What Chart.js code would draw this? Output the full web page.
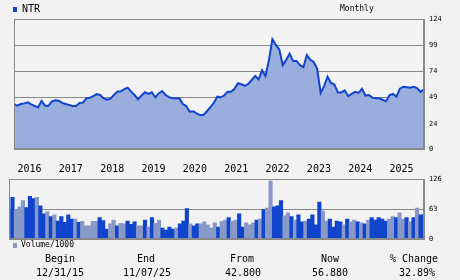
<!DOCTYPE html>
<html>
<head>
<meta charset="utf-8">
<script src="https://cdn.jsdelivr.net/npm/chart.js@4.4.0/dist/chart.umd.min.js"></script>
<style>
  html, body { margin: 0; padding: 0; background: #f2f2f2; }
  #wrap { position: relative; width: 460px; height: 280px; overflow: hidden;
          font-family: "DejaVu Sans Mono", monospace; color: #000; }
  canvas { position: absolute; left: 0; }
  #priceChart { top: 0; }
  #volChart { top: 170px; }
  .t { position: absolute; white-space: pre; line-height: 1; }
  .sq { position: absolute; width: 4px; height: 5px; }
  .c { text-align: center; width: 90px; font-size: 10px; }
</style>
</head>
<body>
<div id="wrap">
  <canvas id="priceChart" width="460" height="178"></canvas>
  <canvas id="volChart" width="460" height="80"></canvas>

  <div class="sq" style="left:13px; top:7px; background:#1144cc;"></div>
  <div class="t" style="left:22px; top:4px; font-size:10px;">NTR</div>
  <div class="t" style="left:340px; top:5px; font-size:8px;">Monthly</div>

  <div class="sq" style="left:13px; top:243px; background:#8899c8;"></div>
  <div class="t" style="left:21px; top:241px; font-size:8px;">Volume/1000</div>

  <div class="t c" style="left:15px;  top:254px;">Begin</div>
  <div class="t c" style="left:15px;  top:268px;">12/31/15</div>
  <div class="t c" style="left:101px; top:254px;">End</div>
  <div class="t c" style="left:102px; top:268px;">11/07/25</div>
  <div class="t c" style="left:197px; top:254px;">From</div>
  <div class="t c" style="left:198px; top:268px;">42.800</div>
  <div class="t c" style="left:285px; top:254px;">Now</div>
  <div class="t c" style="left:285px; top:268px;">56.880</div>
  <div class="t c" style="left:369px; top:254px;">% Change</div>
  <div class="t c" style="left:372px; top:268px;">32.89%</div>
</div>

<script>
// monthly closes, Dec 2015 .. Nov 2025
const closes = [
  42.8, 41.3, 42.9, 43.5, 44.5, 42.5, 41, 39.8, 45.8, 41.3,
  41.2, 45.5, 46.5, 46, 44, 43, 42, 41, 41, 43.8,
  44.2, 48.3, 48.8, 50.5, 52.3, 51.5, 48.3, 47, 48, 51.5,
  54.7, 55, 57, 58.5, 54.7, 51.5, 47.4, 51, 54.1, 52.5,
  54.1, 49.3, 53, 55.3, 51.5, 49.5, 48.3, 48.3, 48.3, 42.9,
  41, 35.6, 36, 34, 32.4, 32.4, 36, 40, 44, 49.9,
  49.3, 51, 54.7, 54.7, 57.5, 62.7, 61.7, 60.3, 62, 65.8,
  69.6, 66.5, 75, 69.6, 85, 104.7, 99.5, 95, 80, 85,
  91, 84, 84, 80, 78, 89.7, 85, 83, 76.5, 53.5,
  60, 69, 63, 61.5, 54, 54, 56, 50.5, 52.5, 54.5,
  53.5, 57.5, 51, 51.5, 49, 48.3, 48.3, 47, 45.5, 51.5,
  52.5, 50, 57.5, 59.4, 59, 58.5, 59.4, 58, 54.5, 56.88
];

// volume in thousands
const volumes = [
  63, 88, 62, 68, 81, 66, 90, 85, 88, 70,
  53, 58, 47, 51, 38, 47, 35, 51, 42, 42,
  35, 37, 28, 28, 37, 37, 45, 39, 21, 32,
  40, 28, 33, 32, 38, 31, 36, 28, 28, 40,
  25, 45, 33, 40, 23, 19, 25, 21, 23, 32,
  38, 64, 32, 28, 32, 32, 36, 30, 23, 34,
  25, 37, 40, 45, 37, 40, 53, 25, 34, 30,
  34, 40, 42, 62, 65, 122, 68, 70, 81, 49,
  55, 47, 40, 51, 36, 38, 42, 51, 30, 78,
  59, 38, 42, 25, 38, 36, 30, 42, 36, 40,
  36, 34, 32, 40, 45, 40, 45, 42, 38, 42,
  47, 45, 55, 42, 45, 36, 45, 65, 51, 51
];

// 1 = dark bar, 0 = light bar
const volUp = [
  0, 1, 0, 0, 0, 1, 1, 1, 0, 1,
  1, 0, 1, 0, 1, 1, 1, 1, 1, 0,
  1, 0, 0, 0, 0, 0, 1, 1, 1, 0,
  0, 1, 0, 0, 1, 1, 1, 0, 0, 1,
  0, 1, 0, 0, 1, 1, 1, 1, 0, 1,
  1, 1, 0, 1, 1, 0, 0, 0, 0, 0,
  1, 0, 0, 1, 0, 0, 1, 1, 0, 0,
  0, 1, 0, 1, 0, 0, 1, 1, 1, 0,
  0, 1, 0, 1, 1, 0, 1, 1, 1, 1,
  0, 0, 1, 1, 1, 1, 0, 1, 0, 0,
  1, 0, 1, 0, 1, 1, 1, 1, 1, 0,
  0, 1, 0, 0, 1, 0, 1, 0, 1, 1
];

const priceTicks = [0, 24, 49, 74, 99, 124];
const volTicks = [0, 63, 126];

// month categories "YYYY-MM"
const months = [];
for (let n = 0, y = 2015, m = 12; n < closes.length; n++) {
  months.push(y + "-" + String(m).padStart(2, "0"));
  m++;
  if (m > 12) { m = 1; y++; }
}

const DARK = "#1144cc";
const LIGHT = "#8899c8";
const GRID = "#888888";
const MONO = "'DejaVu Sans Mono', monospace";

// thin gray box round the plot area
const boxPlugin = {
  id: "box",
  afterDatasetsDraw(chart) {
    const { ctx, chartArea: a } = chart;
    ctx.save();
    ctx.strokeStyle = GRID;
    ctx.lineWidth = 1;
    ctx.strokeRect(Math.round(a.left) + 0.5, Math.round(a.top) + 0.5,
      Math.round(a.right - a.left) - 1, Math.round(a.bottom - a.top) - 1);
    ctx.restore();
  }
};

new Chart(document.getElementById("priceChart"), {
  type: "line",
  data: {
    labels: months,
    datasets: [{
      data: closes,
      borderColor: DARK,
      borderWidth: 2,
      backgroundColor: "#9aaede",
      fill: "origin",
      pointRadius: 0,
      tension: 0
    }]
  },
  options: {
    responsive: false,
    animation: false,
    layout: { padding: { left: 9, top: 19, right: 0, bottom: 0 } },
    plugins: { legend: { display: false }, tooltip: { enabled: false } },
    scales: {
      x: {
        offset: false,
        grid: { display: false, drawTicks: false },
        border: { display: false },
        ticks: {
          autoSkip: false, maxRotation: 0, minRotation: 0,
          align: "start", padding: 14, color: "#000",
          font: { family: MONO, size: 10 },
          callback: (v, i) => months[i].endsWith("-01") ? months[i].slice(0, 4) : ""
        },
        afterFit: s => { s.height = 29; }
      },
      y: {
        position: "right",
        min: 0, max: 124,
        afterBuildTicks: s => { s.ticks = priceTicks.map(v => ({ value: v })); },
        grid: { color: GRID, drawTicks: false },
        border: { color: GRID },
        ticks: { padding: 5, color: "#000", font: { family: MONO, size: 7 } },
        afterFit: s => { s.width = 36; }
      }
    }
  },
  plugins: [boxPlugin]
});

new Chart(document.getElementById("volChart"), {
  type: "bar",
  data: {
    labels: months,
    datasets: [{
      data: volumes,
      backgroundColor: volUp.map(u => u ? DARK : LIGHT),
      barPercentage: 1,
      categoryPercentage: 1,
      borderWidth: 0
    }]
  },
  options: {
    responsive: false,
    animation: false,
    layout: { padding: { left: 9, top: 9, right: 0, bottom: 11 } },
    plugins: { legend: { display: false }, tooltip: { enabled: false } },
    scales: {
      x: { display: false, offset: false },
      y: {
        position: "right",
        min: 0, max: 126,
        afterBuildTicks: s => { s.ticks = volTicks.map(v => ({ value: v })); },
        grid: { color: GRID, drawTicks: false },
        border: { color: GRID },
        ticks: { padding: 5, color: "#000", font: { family: MONO, size: 7 } },
        afterFit: s => { s.width = 36; }
      }
    }
  },
  plugins: [boxPlugin]
});
</script>
</body>
</html>
